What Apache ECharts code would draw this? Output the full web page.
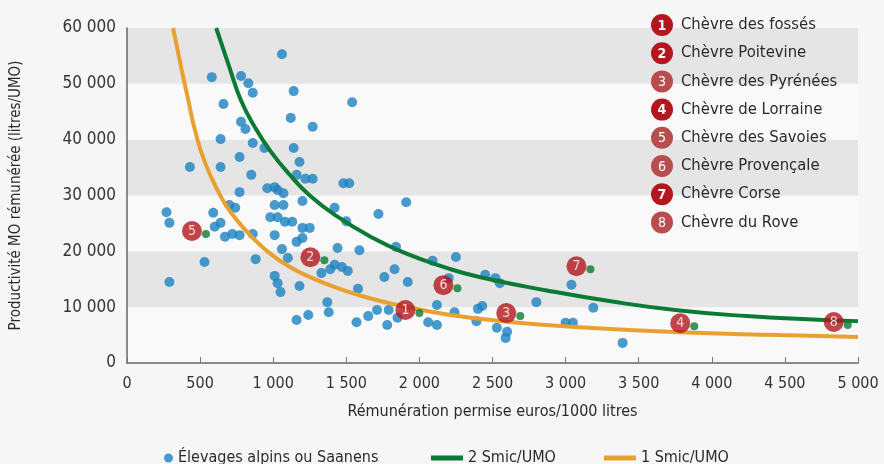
<!DOCTYPE html>
<html>
<head>
<meta charset="utf-8">
<script src="https://cdn.jsdelivr.net/npm/echarts@6/dist/echarts.min.js"></script>
<style>
html, body { margin: 0; padding: 0; background: #f6f6f6; }
#main { width: 884px; height: 464px; }
</style>
</head>
<body>
<div id="main"></div>
<script>
var FONT = "'Liberation Sans Narrow', 'DejaVu Sans Condensed', sans-serif";

// élevages alpins ou saanens [euros/1000 l, litres/UMO]
var alpins = [
    [1060, 55300], [580, 51200], [780, 51400], [830, 50100], [860, 48400], [1140, 48700],
    [1540, 46700], [660, 46400], [1120, 43900], [1270, 42300], [780, 43200], [810, 41900],
    [640, 40100], [860, 39400], [940, 38500], [1140, 38500], [770, 36900], [1180, 36000],
    [430, 35100], [640, 35100], [850, 33700], [1160, 33700], [1220, 33000], [1270, 33000],
    [960, 31300], [1010, 31500], [1030, 31000], [1070, 30400], [770, 30600], [1480, 32200],
    [1520, 32200], [1910, 28800], [1720, 26700], [1200, 29000], [1010, 28300], [1070, 28300],
    [700, 28300], [740, 27800], [1420, 27800], [1500, 25400], [270, 27000], [290, 25100],
    [590, 26900], [640, 25100], [600, 24400], [980, 26100], [1030, 26100], [1080, 25300],
    [1130, 25300], [1200, 24200], [1250, 24200], [670, 22600], [720, 23100], [770, 22900],
    [860, 23100], [1010, 22900], [1160, 21700], [1200, 22400], [1440, 20600], [1590, 20200],
    [1060, 20400], [880, 18600], [530, 18100], [1100, 18800], [1330, 16100], [1390, 16800],
    [1420, 17600], [1470, 17200], [1510, 16500], [1010, 15600], [1030, 14300], [1050, 12700],
    [1180, 13800], [290, 14500], [1580, 13300], [1760, 15400], [1830, 16800], [1920, 14500],
    [1840, 20800], [1370, 10900], [1380, 9100], [1160, 7700], [1240, 8600], [1570, 7300],
    [1650, 8400], [1710, 9500], [1780, 6800], [1790, 9500], [1850, 8100], [2090, 18300],
    [2250, 19000], [2200, 15200], [2450, 15800], [2520, 15200], [2550, 14300], [2120, 10400],
    [2240, 9100], [2400, 9700], [2430, 10200], [2060, 7300], [2120, 6800], [2390, 7500],
    [2530, 6300], [2600, 5600], [2590, 4500], [2800, 10900], [3040, 14000], [3190, 9900],
    [3000, 7200], [3050, 7200], [3390, 3600]
];

// courbe 2 Smic/UMO
var smic2 = [
    [610, 60000], [700, 53000], [780, 47000], [880, 42000], [980, 38000], [1110, 33800],
    [1250, 30000], [1440, 26200], [1660, 22700], [1890, 19800], [2190, 17000], [2410, 15400],
    [2870, 13000], [3320, 11000], [3780, 9400], [4240, 8400], [4690, 7800], [5000, 7500]
];

// courbe 1 Smic/UMO
var smic1 = [
    [315, 60000], [370, 53000], [420, 47000], [465, 41700], [535, 35800], [640, 29900],
    [710, 27000], [810, 23800], [920, 20900], [1020, 18800], [1090, 17600], [1200, 16000],
    [1440, 13400], [1660, 11600], [1850, 10400], [2190, 8700], [2600, 7400], [3100, 6400],
    [3780, 5500], [4470, 5000], [5000, 4650]
];

var breedNames = [
    'Chèvre des fossés', 'Chèvre Poitevine', 'Chèvre des Pyrénées', 'Chèvre de Lorraine',
    'Chèvre des Savoies', 'Chèvre Provençale', 'Chèvre Corse', 'Chèvre du Rove'
];
var breedPoints = [
    [2000, 8950], [1350, 18400], [2690, 8400], [3880, 6600],
    [540, 23100], [2260, 13400], [3170, 16800], [4930, 6800]
];

function fmt(v) {
    return String(v).replace(/\B(?=(\d{3})+(?!\d))/g, ' ');
}

var chart = echarts.init(document.getElementById('main'));

// légende des races (en haut à droite)
var graphics = [];
breedNames.forEach(function (name, i) {
    var cy = 25 + i * 28.2;
    var strong = [0, 1, 3, 6].indexOf(i) >= 0;
    graphics.push({
        type: 'circle', z: 100,
        shape: { cx: 662, cy: cy, r: 11 },
        style: { fill: strong ? '#b3161c' : '#b84d4d' }
    });
    graphics.push({
        type: 'text', z: 101, x: 662, y: cy + 1,
        style: {
            text: String(i + 1), fill: '#fff', align: 'center', verticalAlign: 'middle',
            font: (strong ? 'bold ' : '') + '14px ' + FONT
        }
    });
    graphics.push({
        type: 'text', z: 101, x: 681, y: cy,
        style: {
            text: name, fill: '#2a2a2a', verticalAlign: 'middle',
            font: '16.5px ' + FONT
        }
    });
});

var option = {
    backgroundColor: '#f6f6f6',
    animation: false,
    textStyle: { fontFamily: FONT },
    grid: { left: 127, right: 26, top: 28, bottom: 101 },
    legend: [
        {
            data: [{ name: 'Élevages alpins ou Saanens', icon: 'circle' }],
            left: 159, top: 445, itemWidth: 9, itemHeight: 9,
            textStyle: { fontSize: 16, color: '#2a2a2a', fontFamily: FONT }
        },
        {
            data: [{ name: '2 Smic/UMO', icon: 'rect' }, { name: '1 Smic/UMO', icon: 'rect' }],
            left: 426, top: 445, itemWidth: 32, itemHeight: 5, itemGap: 48,
            textStyle: { fontSize: 16, color: '#2a2a2a', fontFamily: FONT }
        }
    ],
    xAxis: {
        type: 'value', min: 0, max: 5000, interval: 500,
        name: 'Rémunération permise euros/1000 litres',
        nameLocation: 'middle', nameGap: 41,
        nameTextStyle: { fontSize: 16, color: '#2a2a2a', fontFamily: FONT },
        axisLine: { show: true, lineStyle: { color: '#666', width: 1.5 } },
        axisTick: { show: true, inside: true, length: 6, lineStyle: { color: '#777' } },
        axisLabel: { formatter: fmt, fontSize: 16, color: '#333', margin: 13, fontFamily: FONT },
        splitLine: { show: false }
    },
    yAxis: {
        type: 'value', min: 0, max: 60000, interval: 10000,
        name: 'Productivité MO rémunérée (litres/UMO)',
        nameLocation: 'middle', nameGap: 103,
        nameTextStyle: { fontSize: 15, color: '#2a2a2a', fontFamily: FONT },
        axisLine: { show: true, lineStyle: { color: '#666', width: 1.5 } },
        axisTick: { show: false },
        axisLabel: { formatter: fmt, fontSize: 17, color: '#333', margin: 11, fontFamily: FONT },
        splitLine: { show: false },
        splitArea: { show: true, areaStyle: { color: ['#f9f9f9', '#e5e5e5'] } }
    },
    graphic: graphics,
    series: [
        {
            name: 'Élevages alpins ou Saanens', type: 'scatter', data: alpins,
            symbolSize: 10, itemStyle: { color: '#1b82c1' }, z: 2
        },
        {
            name: '2 Smic/UMO', type: 'line', data: smic2, smooth: 0.5,
            showSymbol: false,
            lineStyle: { color: '#0b7a34', width: 4 }, itemStyle: { color: '#0b7a34' }, z: 3
        },
        {
            name: '1 Smic/UMO', type: 'line', data: smic1, smooth: 0.5,
            showSymbol: false,
            lineStyle: { color: '#e8a131', width: 4 }, itemStyle: { color: '#e8a131' }, z: 3
        },
        {
            name: 'races', type: 'scatter', data: breedPoints, symbolSize: 8,
            itemStyle: { color: '#0b7a34' }, z: 4
        },
        {
            name: 'badges', type: 'scatter', data: breedPoints, symbolSize: 20,
            symbolOffset: [-14, -3],
            itemStyle: { color: '#b3161c' }, z: 5,
            label: {
                show: true, position: 'inside',
                formatter: function (p) { return String(p.dataIndex + 1); },
                color: '#fff', fontSize: 14, fontFamily: FONT
            }
        }
    ]
};
chart.setOption(option);
</script>
</body>
</html>
